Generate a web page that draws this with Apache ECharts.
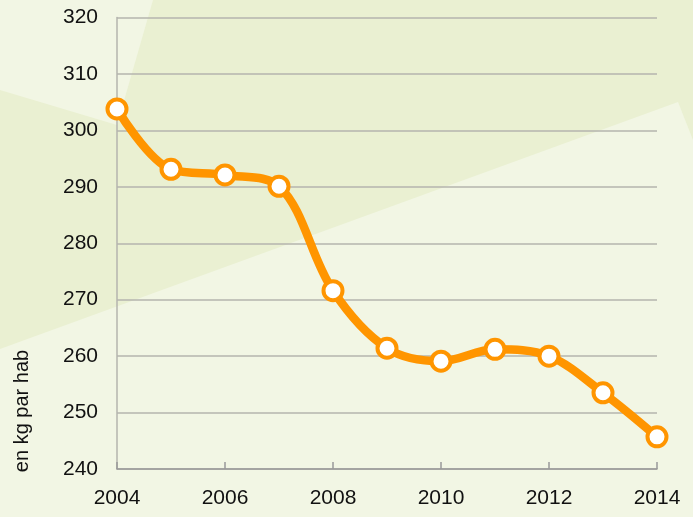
<!DOCTYPE html>
<html>
<head>
<meta charset="utf-8">
<script src="https://cdn.jsdelivr.net/npm/echarts@6/dist/echarts.min.js"></script>
<style>
  html, body { margin: 0; padding: 0; background: #EAF0D2; }
  #chart { width: 693px; height: 517px; }
</style>
</head>
<body>
<div id="chart"></div>
<script>
// Annual figures, kg per inhabitant
const years = [2004, 2005, 2006, 2007, 2008, 2009, 2010, 2011, 2012, 2013, 2014];
const kgPerHab = [303.8, 293.1, 292.1, 290.1, 271.6, 261.4, 259.1, 261.2, 260.0, 253.5, 245.7];
const yTicks = [240, 250, 260, 270, 280, 290, 300, 310, 320];
const xTicks = [2004, 2006, 2008, 2010, 2012, 2014];
const unitLabel = 'en kg par hab';

const chart = echarts.init(document.getElementById('chart'), null, { renderer: 'canvas' });

const light = '#F2F6E4';
const font = '"Liberation Sans", Arial, sans-serif';

chart.setOption({
  backgroundColor: '#EAF0D2',
  animation: false,
  grid: { left: 117, right: 36, top: 17.5, bottom: 48, containLabel: false },
  graphic: {
    elements: [
      {
        type: 'polygon', z: -10, silent: true,
        shape: { points: [[0, 0], [153, 0], [117, 125], [0, 90]] },
        style: { fill: light }
      },
      {
        type: 'polygon', z: -10, silent: true,
        shape: { points: [[0, 349], [678, 102], [693, 140], [693, 517], [0, 517]] },
        style: { fill: light }
      },
      {
        type: 'text', silent: true,
        x: 22, y: 411, rotation: Math.PI / 2,
        style: {
          text: unitLabel, fill: '#111', font: '20px ' + font,
          align: 'center', verticalAlign: 'middle'
        }
      }
    ]
  },
  xAxis: {
    type: 'value',
    min: xTicks[0], max: xTicks[xTicks.length - 1], interval: 2,
    axisLine: { show: true, lineStyle: { color: '#999999', width: 1.5 } },
    axisTick: { show: true, inside: true, length: 7, lineStyle: { color: '#999999', width: 1.5 } },
    splitLine: { show: false },
    axisLabel: {
      color: '#111', fontSize: 21, fontFamily: font, margin: 19,
      formatter: v => String(v)
    }
  },
  yAxis: {
    type: 'value',
    min: yTicks[0], max: yTicks[yTicks.length - 1], interval: 10,
    axisLine: { show: true, lineStyle: { color: '#B4B4AE', width: 1.5 } },
    axisTick: { show: false },
    splitLine: { show: true, lineStyle: { color: '#B4B4AE', width: 1.5 } },
    axisLabel: {
      color: '#111', fontSize: 21, fontFamily: font, margin: 19,
      formatter: v => String(v)
    }
  },
  series: [{
    type: 'line',
    data: years.map((y, i) => [y, kgPerHab[i]]),
    smooth: 0.35,
    lineStyle: { color: '#FF9500', width: 8.5 },
    symbol: 'circle',
    symbolSize: 19,
    itemStyle: { color: '#FFFFFF', borderColor: '#FF9500', borderWidth: 4 },
    z: 5
  }]
});
</script>
</body>
</html>
